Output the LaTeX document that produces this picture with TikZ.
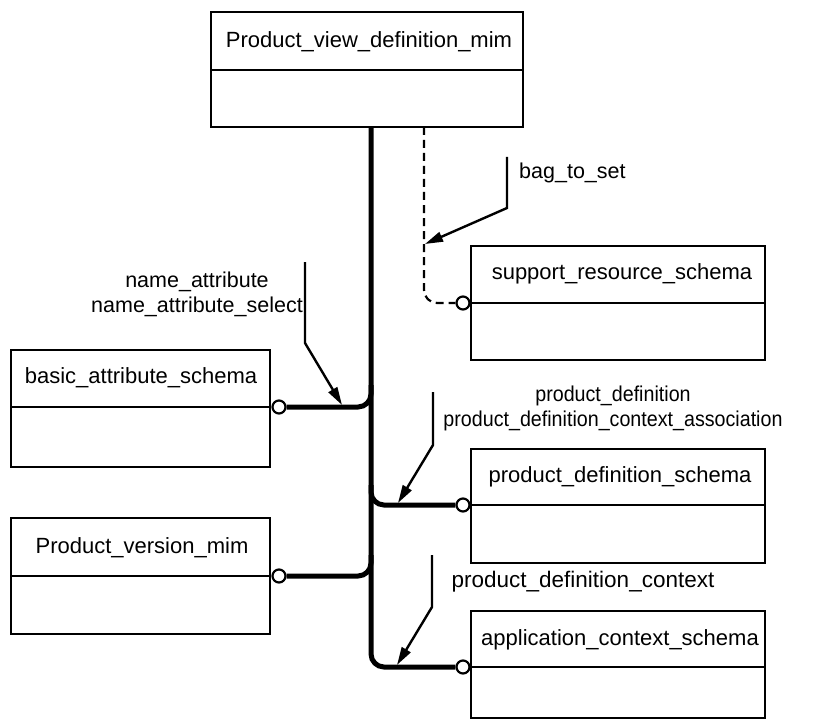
\documentclass[tikz,border=0pt]{standalone}
\usepackage{fontspec}
\setmainfont{Liberation Sans}
\usetikzlibrary{arrows.meta}
\begin{document}
\begin{tikzpicture}[x=1pt,y=-1pt,
  box/.style={draw,line width=2.4pt,rectangle,inner sep=0pt},
  ttl/.style={font=\fontsize{22}{24}\selectfont,inner sep=0pt},
  lbltext/.style={font=\fontsize{21.5}{25}\selectfont,inner sep=0pt,align=center},
  circ/.style={circle,draw,line width=2.2pt,fill=white,minimum size=13pt,inner sep=0pt},
  thick link/.style={line width=5pt,rounded corners=13pt},
  dash link/.style={line width=2.2pt,dash pattern=on 8pt off 5pt,rounded corners=13pt},
  pointer/.style={line width=2.4pt,-{Triangle[length=18pt,width=10pt]}}]
\useasboundingbox (0,0) rectangle (840,722);

% boxes
\node[box,minimum width=312pt,minimum height=115pt] (pvd) at (367,69.5) {};
\draw[line width=2.4pt] (211,70) -- (523,70);
\node[ttl] (pvdt) at (369,42) {Product\_view\_definition\_mim};

\node[box,minimum width=294pt,minimum height=114pt] (srs) at (618,303) {};
\draw[line width=2.4pt] (471,303) -- (765,303);
\node[ttl] (srst) at (622,274) {support\_resource\_schema};

\node[box,minimum width=259pt,minimum height=117pt] (bas) at (140.5,408.5) {};
\draw[line width=2.4pt] (11,407) -- (270,407);
\node[ttl] (bast) at (141,378) {basic\_attribute\_schema};

\node[box,minimum width=294pt,minimum height=114pt] (pds) at (618,506) {};
\draw[line width=2.4pt] (471,505) -- (765,505);
\node[ttl] (pdst) at (620,477) {product\_definition\_schema};

\node[box,minimum width=259pt,minimum height=116pt] (pvm) at (140.5,576) {};
\draw[line width=2.4pt] (11,576) -- (270,576);
\node[ttl] (pvmt) at (142,548) {Product\_version\_mim};

\node[box,minimum width=294pt,minimum height=107pt] (acs) at (618,664.5) {};
\draw[line width=2.4pt] (471,667) -- (765,667);
\node[ttl] (acst) at (620,640) {application\_context\_schema};

% circles
\node[circ] (csrs) at (463,303) {};
\node[circ] (cbas) at (279,407) {};
\node[circ] (cpds) at (463,505) {};
\node[circ] (cpvm) at (279,576) {};
\node[circ] (cacs) at (463,667) {};

% main trunk
\coordinate (trunktop) at (371,127);
\draw[thick link] (trunktop) -- (371,667) -- (cacs.west);
\draw[thick link] (cbas.east) -- (371,407) -- (371,385);
\draw[thick link] (371,485) -- (371,505) -- (cpds.west);
\draw[thick link] (cpvm.east) -- (371,576) -- (371,555);

% dashed link
\coordinate (dashtop) at (424,127);
\draw[dash link] (dashtop) -- (424,303) -- (csrs.west);

% labels
\node[lbltext,anchor=west] (l1) at (519,173) {bag\_to\_set};
\node[lbltext] (l2) at (197,294.5) {name\_attribute\\name\_attribute\_select};
\node[lbltext] (l3) at (613,408.5) {\scalebox{0.915}[1]{product\_definition}\\\scalebox{0.915}[1]{product\_definition\_context\_association}};
\node[lbltext,font=\fontsize{22.5}{25}\selectfont] (l4) at (583,582) {product\_definition\_context};

% pointers
\coordinate (p1s) at (507,157); \coordinate (p1t) at (425,244);
\draw[pointer] (p1s) -- (507,208) -- (p1t);
\coordinate (p2s) at (305,262); \coordinate (p2t) at (342,405);
\draw[pointer] (p2s) -- (305,343) -- (p2t);
\coordinate (p3s) at (433,392); \coordinate (p3t) at (398,503);
\draw[pointer] (p3s) -- (433,445) -- (p3t);
\coordinate (p4s) at (432,555); \coordinate (p4t) at (397,665);
\draw[pointer] (p4s) -- (432,607) -- (p4t);
\end{tikzpicture}
\end{document}
